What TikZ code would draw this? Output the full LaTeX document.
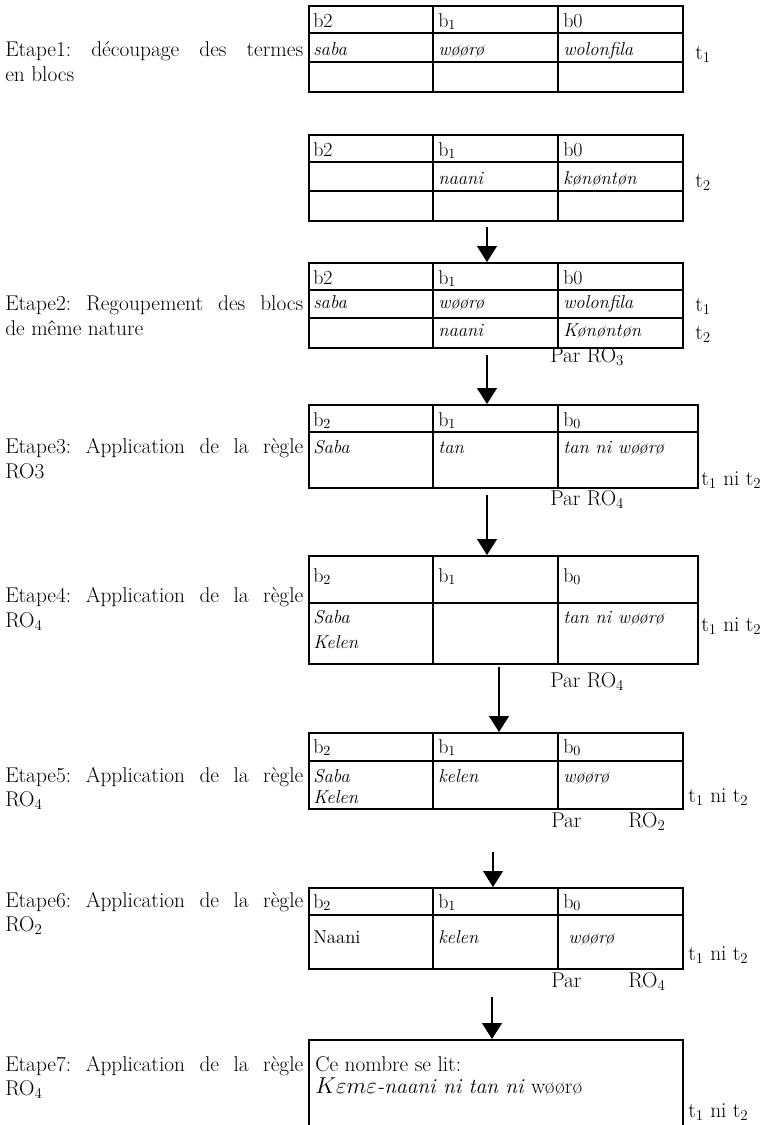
\documentclass[tikz,border=0pt]{standalone}
\usepackage{fontspec}
\usetikzlibrary{arrows.meta}

\begin{document}
\frenchspacing
\begin{tikzpicture}[x=0.75pt, y=-0.75pt, >={Triangle[length=12pt, width=15pt]},
    every node/.style={inner sep=0pt, font=\fontsize{16}{19}\selectfont},
    txt/.style={anchor=base west},
    head/.style={anchor=base west, font=\fontsize{15}{18}\selectfont},
    word/.style={anchor=base west, font=\fontsize{14}{16}\selectfont\itshape},
    tbl/.style={draw, line width=1.2pt, anchor=north west, inner sep=0pt},
    sep/.style={line width=1.2pt},
    flow/.style={->, line width=0.9pt}]

    \useasboundingbox (0,0) rectangle (767,1125);

    % Etape1: blocks of t1 and of t2
    \node[txt] (e1a) at (5,56) {\hbox to 223.5pt{Etape1: découpage des termes}};
    \node[txt] (e1b) at (5,81) {en blocs};

    \node[tbl, minimum width=280.5pt, minimum height=64.5pt] (T1) at (308,5) {};
    \draw[sep] (308,33) -- (682,33);
    \draw[sep] (308,62) -- (682,62);
    \draw[sep] (433,5) -- (433,91);
    \draw[sep] (558,5) -- (558,91);
    \node[head] (h1a) at (313,27) {b2};
    \node[head] (h1b) at (438,27) {b\textsubscript{1}};
    \node[head] (h1c) at (563,27) {b0};
    \node[word] (r1a) at (313,55) {saba};
    \node[word] (r1b) at (438,55) {wøørø};
    \node[word] (r1c) at (563,55) {wolonfila};
    \node[txt] (t1a) at (695,59) {t\textsubscript{1}};

    \node[tbl, minimum width=280.5pt, minimum height=64.5pt] (T2) at (308,134) {};
    \draw[sep] (308,162) -- (682,162);
    \draw[sep] (308,191) -- (682,191);
    \draw[sep] (433,134) -- (433,220);
    \draw[sep] (558,134) -- (558,220);
    \node[head] (h2a) at (313,156) {b2};
    \node[head] (h2b) at (438,156) {b\textsubscript{1}};
    \node[head] (h2c) at (563,156) {b0};
    \node[word] (r2b) at (438,184) {naani};
    \node[word] (r2c) at (563,184) {kønøntøn};
    \node[txt] (t2a) at (695,187) {t\textsubscript{2}};

    % Etape2: grouping
    \node[txt] (e2a) at (5,310) {\hbox to 223.5pt{Etape2: Regoupement des blocs}};
    \node[txt] (e2b) at (5,335) {de même nature};

    \node[tbl, minimum width=280.5pt, minimum height=63.75pt] (T3) at (308,262) {};
    \draw[sep] (308,290) -- (682,290);
    \draw[sep] (308,318) -- (682,318);
    \draw[sep] (433,262) -- (433,347);
    \draw[sep] (558,262) -- (558,347);
    \node[head] (h3a) at (313,284) {b2};
    \node[head] (h3b) at (438,284) {b\textsubscript{1}};
    \node[head] (h3c) at (563,284) {b0};
    \node[word] (r3a) at (313,308) {saba};
    \node[word] (r3b) at (438,308) {wøørø};
    \node[word] (r3c) at (563,308) {wolonfila};
    \node[word] (s3b) at (438,336) {naani};
    \node[word] (s3c) at (563,336) {Kønøntøn};
    \node[txt] (t3a) at (695,311) {t\textsubscript{1}};
    \node[txt] (t3b) at (695,339) {t\textsubscript{2}};
    \node[txt] (p3) at (550,362) {Par RO\textsubscript{3}};

    % Etape3: rule RO3
    \node[txt] (e3a) at (5,453) {\hbox to 223.5pt{Etape3: Application de la règle}};
    \node[txt] (e3b) at (5,478) {RO3};

    \node[tbl, minimum width=291.75pt, minimum height=62.25pt] (T4) at (308,404) {};
    \draw[sep] (308,432) -- (697,432);
    \draw[sep] (433,404) -- (433,487);
    \draw[sep] (558,404) -- (558,487);
    \node[head] (h4a) at (313,426) {b\textsubscript{2}};
    \node[head] (h4b) at (438,426) {b\textsubscript{1}};
    \node[head] (h4c) at (563,426) {b\textsubscript{0}};
    \node[word] (r4a) at (313,453) {Saba};
    \node[word] (r4b) at (438,453) {tan};
    \node[word] (r4c) at (563,453) {tan ni wøørø};
    \node[txt] (t4a) at (701,485) {t\textsubscript{1} ni t\textsubscript{2}};
    \node[txt] (p4) at (550,505) {Par RO\textsubscript{4}};

    % Etape4: rule RO4
    \node[txt] (e4a) at (5,602) {\hbox to 223.5pt{Etape4: Application de la règle}};
    \node[txt] (e4b) at (5,627) {RO\textsubscript{4}};

    \node[tbl, minimum width=291.75pt, minimum height=81pt] (T5) at (308,555) {};
    \draw[sep] (308,603) -- (697,603);
    \draw[sep] (433,555) -- (433,663);
    \draw[sep] (558,555) -- (558,663);
    \node[head] (h5a) at (313,582) {b\textsubscript{2}};
    \node[head] (h5b) at (438,582) {b\textsubscript{1}};
    \node[head] (h5c) at (563,582) {b\textsubscript{0}};
    \node[word] (r5a) at (313,623) {Saba};
    \node[word] (s5a) at (313,648) {Kelen};
    \node[word] (r5c) at (563,623) {tan ni wøørø};
    \node[txt] (t5a) at (701,631) {t\textsubscript{1} ni t\textsubscript{2}};
    \node[txt] (p5) at (550,687) {Par RO\textsubscript{4}};

    % Etape5: rule RO4
    \node[txt] (e5a) at (5,782) {\hbox to 223.5pt{Etape5: Application de la règle}};
    \node[txt] (e5b) at (5,806) {RO\textsubscript{4}};

    \node[tbl, minimum width=280.5pt, minimum height=57pt] (T6) at (308,732) {};
    \draw[sep] (308,761) -- (682,761);
    \draw[sep] (433,732) -- (433,808);
    \draw[sep] (558,732) -- (558,808);
    \node[head] (h6a) at (313,753) {b\textsubscript{2}};
    \node[head] (h6b) at (438,753) {b\textsubscript{1}};
    \node[head] (h6c) at (563,753) {b\textsubscript{0}};
    \node[word] (r6a) at (313,782) {Saba};
    \node[word] (s6a) at (313,803) {Kelen};
    \node[word] (r6b) at (438,782) {kelen};
    \node[word] (r6c) at (563,782) {wøørø};
    \node[txt] (t6a) at (688,802) {t\textsubscript{1} ni t\textsubscript{2}};
    \node[txt] (p6a) at (551,827) {Par};
    \node[txt] (p6b) at (628,827) {RO\textsubscript{2}};

    % Etape6: rule RO2
    \node[txt] (e6a) at (5,907) {\hbox to 223.5pt{Etape6: Application de la règle}};
    \node[txt] (e6b) at (5,931) {RO\textsubscript{2}};

    \node[tbl, minimum width=280.5pt, minimum height=60.75pt] (T7) at (308,887) {};
    \draw[sep] (308,915) -- (682,915);
    \draw[sep] (433,887) -- (433,968);
    \draw[sep] (558,887) -- (558,968);
    \node[head] (h7a) at (313,908) {b\textsubscript{2}};
    \node[head] (h7b) at (438,908) {b\textsubscript{1}};
    \node[head] (h7c) at (563,908) {b\textsubscript{0}};
    \node[word, font=\fontsize{14}{16}\selectfont\upshape] (r7a) at (313,943) {Naani};
    \node[word] (r7b) at (438,943) {kelen};
    \node[word] (r7c) at (568,943) {wøørø};
    \node[txt] (t7a) at (688,960) {t\textsubscript{1} ni t\textsubscript{2}};
    \node[txt] (p7a) at (551,987) {Par};
    \node[txt] (p7b) at (628,987) {RO\textsubscript{4}};

    % Etape7: reading of the number
    \node[txt] (e8a) at (5,1071) {\hbox to 223.5pt{Etape7: Application de la règle}};
    \node[txt] (e8b) at (5,1095) {RO\textsubscript{4}};

    \node[tbl, minimum width=280.5pt, minimum height=66pt] (T8) at (308,1039) {};
    \node[txt] (r8a) at (315,1071) {Ce nombre se lit:};
    \node[txt] (r8b) at (315,1093) {$K\varepsilon m\varepsilon$\textit{-naani ni tan ni} wøørø};
    \node[txt] (t8a) at (688,1117) {t\textsubscript{1} ni t\textsubscript{2}};

    % arrows between the steps
    \coordinate (a2) at (487,227);
    \coordinate (a3) at (487,355);
    \coordinate (a4) at (487,495);
    \coordinate (a5) at (499,667);
    \coordinate (a6) at (493,852);
    \coordinate (a7) at (492,997);
    \draw[flow] (a2) -- (a2 |- T3.north);
    \draw[flow] (a3) -- (a3 |- T4.north);
    \draw[flow] (a4) -- (a4 |- T5.north);
    \draw[flow] (a5) -- (a5 |- T6.north);
    \draw[flow] (a6) -- (a6 |- T7.north);
    \draw[flow] (a7) -- (a7 |- T8.north);

\end{tikzpicture}
\end{document}
